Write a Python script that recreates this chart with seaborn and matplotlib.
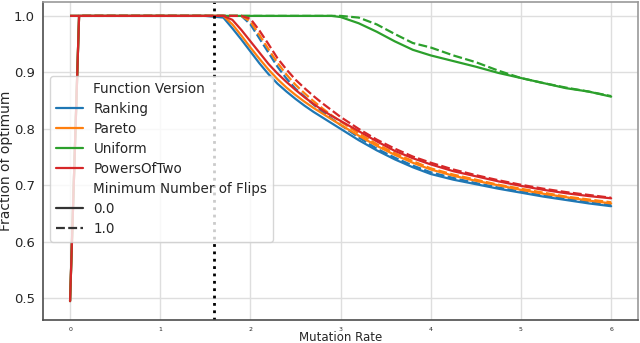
import numpy as np
import pandas as pd
import seaborn as sns
import matplotlib
matplotlib.use("Agg")
import matplotlib.pyplot as plt

# mutation rates (x grid) and the fraction of optimum per series
rates = [0, 0.1, 0.5, 1.0, 1.5, 1.7, 1.8, 1.9, 2.0, 2.1, 2.2, 2.3, 2.4, 2.5, 2.6,
         2.7, 2.8, 2.9, 3.0, 3.2, 3.4, 3.6, 3.8, 4.0, 4.25, 4.5, 4.75, 5.0,
         5.25, 5.5, 5.75, 6.0]

versions = ["Ranking", "Pareto", "Uniform", "PowersOfTwo"]
flips = [0.0, 1.0]

# min flips = 0
ranking_0 = [0.495, 1, 1, 1, 1, 0.997, 0.978, 0.958, 0.937, 0.916, 0.897, 0.880,
             0.866, 0.853, 0.841, 0.830, 0.820, 0.810, 0.800, 0.780, 0.762, 0.746,
             0.732, 0.720, 0.710, 0.702, 0.694, 0.687, 0.680, 0.674, 0.668, 0.663]
pareto_0 = [0.495, 1, 1, 1, 1, 1.0, 0.985, 0.965, 0.944, 0.924, 0.905, 0.888,
            0.873, 0.860, 0.848, 0.837, 0.827, 0.817, 0.807, 0.788, 0.770, 0.754,
            0.740, 0.728, 0.717, 0.708, 0.700, 0.692, 0.685, 0.679, 0.673, 0.668]
uniform_0 = [0.495, 1, 1, 1, 1, 1, 1, 1, 1, 1, 1, 1, 1, 1, 1, 1, 1, 1, 0.998,
             0.987, 0.972, 0.955, 0.940, 0.930, 0.920, 0.910, 0.899, 0.890,
             0.881, 0.872, 0.866, 0.857]
powers_0 = [0.495, 1, 1, 1, 1, 1.0, 0.993, 0.975, 0.955, 0.935, 0.915, 0.898,
            0.883, 0.869, 0.856, 0.844, 0.833, 0.823, 0.814, 0.796, 0.778, 0.761,
            0.748, 0.737, 0.725, 0.716, 0.707, 0.699, 0.692, 0.686, 0.681, 0.677]

# min flips = 1
ranking_1 = [1, 1, 1, 1, 1, 1, 1, 1.0, 0.985, 0.960, 0.935, 0.910, 0.889, 0.871,
             0.857, 0.843, 0.830, 0.818, 0.807, 0.785, 0.765, 0.749, 0.735, 0.723,
             0.713, 0.704, 0.696, 0.689, 0.682, 0.676, 0.670, 0.665]
pareto_1 = [1, 1, 1, 1, 1, 1, 1, 1.0, 0.990, 0.966, 0.941, 0.917, 0.896, 0.878,
            0.863, 0.849, 0.836, 0.824, 0.813, 0.792, 0.773, 0.757, 0.743, 0.730,
            0.719, 0.710, 0.701, 0.694, 0.687, 0.680, 0.675, 0.670]
uniform_1 = [1, 1, 1, 1, 1, 1, 1, 1, 1, 1, 1, 1, 1, 1, 1, 1, 1, 1, 1, 0.997,
             0.985, 0.968, 0.952, 0.944, 0.930, 0.918, 0.903, 0.890, 0.881,
             0.873, 0.866, 0.858]
powers_1 = [1, 1, 1, 1, 1, 1, 1, 1.0, 0.995, 0.974, 0.950, 0.925, 0.905, 0.887,
            0.872, 0.858, 0.845, 0.833, 0.821, 0.800, 0.781, 0.765, 0.751, 0.740,
            0.728, 0.718, 0.709, 0.701, 0.694, 0.688, 0.683, 0.678]

series = {
    ("Ranking", 0.0): ranking_0, ("Pareto", 0.0): pareto_0,
    ("Uniform", 0.0): uniform_0, ("PowersOfTwo", 0.0): powers_0,
    ("Ranking", 1.0): ranking_1, ("Pareto", 1.0): pareto_1,
    ("Uniform", 1.0): uniform_1, ("PowersOfTwo", 1.0): powers_1,
}

rows = []
for (v, f), vals in series.items():
    for r, y in zip(rates, vals):
        rows.append({"Mutation Rate": r, "Fraction of optimum": y,
                     "Function Version": v, "Minimum Number of Flips": f})
df = pd.DataFrame(rows)

sns.set_style("whitegrid")
plt.rcParams['font.family'] = ['DejaVu Sans']

fig = plt.figure(figsize=(6.4, 3.43), dpi=100)
ax = fig.add_axes([0.0672, 0.067, 0.93, 0.927])

sns.lineplot(data=df, x="Mutation Rate", y="Fraction of optimum",
             hue="Function Version", hue_order=versions,
             style="Minimum Number of Flips", style_order=flips,
             palette="tab10", linewidth=1.6, ax=ax)

ax.axvline(1.6, color="black", ls=":", lw=2)

ax.set_xlim(-0.3, 6.3)
ax.set_ylim(0.4615, 1.0245)
ax.set_yticks([0.5, 0.6, 0.7, 0.8, 0.9, 1.0])
ax.tick_params(axis="x", labelsize=4.5, pad=1.5)
ax.tick_params(axis="y", labelsize=9.5, pad=2.5)
ax.set_xlabel("Mutation Rate", fontsize=8.5, labelpad=-0.5)
ax.set_ylabel("Fraction of optimum", fontsize=10)
ax.yaxis.set_label_coords(-0.050, 0.5)
ax.grid(color="0.87", lw=1)

for s in ["left", "bottom"]:
    ax.spines[s].set_color("0.3")
    ax.spines[s].set_linewidth(1.2)
for s in ["top", "right"]:
    ax.spines[s].set_color("0.6")
    ax.spines[s].set_linewidth(1.2)

sns.move_legend(ax, "upper left", bbox_to_anchor=(0.012, 0.767),
                borderaxespad=0, fontsize=9.75, labelspacing=0.45, title=None)

fig.savefig("out.png", dpi=100)
